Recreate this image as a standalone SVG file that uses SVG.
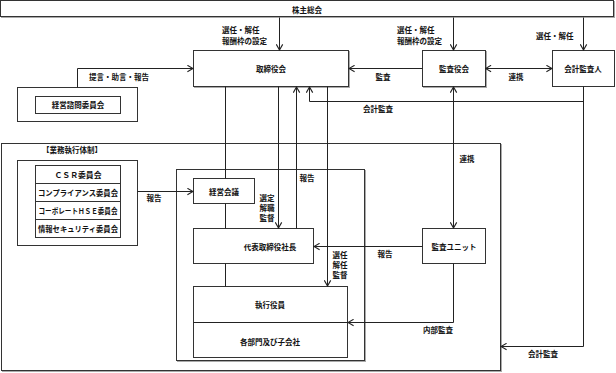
<svg xmlns="http://www.w3.org/2000/svg" width="616" height="373" viewBox="0 0 616 373">
<style>
text{font-family:"Noto Sans CJK JP","Noto Sans CJK SC",sans-serif;font-size:7.5px;font-weight:bold;fill:#111;dominant-baseline:central}
.c{text-anchor:middle}
.box{fill:#fff;stroke:#333;stroke-width:1}
.shadow{fill:none;stroke:#aaa;stroke-width:1}
.ln{fill:none;stroke:#222;stroke-width:1}
</style>
<defs>
<marker id="ah" viewBox="0 0 10 10" refX="9" refY="5" markerWidth="8" markerHeight="8" markerUnits="userSpaceOnUse" orient="auto-start-reverse">
<polyline points="2,1 9,5 2,9" fill="none" stroke="#222" stroke-width="1.4"/>
</marker>
</defs>
<rect width="616" height="373" fill="#fff"/>

<g id="outer-gyomu">
<rect class="shadow" x="2.5" y="144.5" width="499" height="227"/>
<rect class="box" x="1.5" y="143.5" width="499" height="227" fill="none"/>
<text class="c" x="72" y="149">【業務執行体制】</text>
</g>
<g id="inner-exec">
<rect class="shadow" x="177.5" y="170.5" width="188" height="191"/>
<rect class="box" x="176.5" y="169.5" width="188" height="191"/>
</g>

<g id="kabunushi">
<rect class="shadow" x="1.5" y="1.5" width="613" height="16"/>
<rect class="box" x="0.5" y="0.5" width="613" height="16"/>
<text class="c" x="307" y="9">株主総会</text>
</g>
<g id="torishimariyakukai">
<rect class="shadow" x="194.5" y="51.5" width="155" height="36"/>
<rect class="box" x="193.5" y="50.5" width="155" height="36"/>
<text class="c" x="271" y="68.5">取締役会</text>
</g>
<g id="kansayakukai">
<rect class="shadow" x="423.5" y="51.5" width="63" height="36"/>
<rect class="box" x="422.5" y="50.5" width="63" height="36"/>
<text class="c" x="454" y="68.5">監査役会</text>
</g>
<g id="kaikeikansanin">
<rect class="box" x="552.5" y="50.5" width="62" height="36"/>
<text class="c" x="583" y="68.5">会計監査人</text>
</g>
<g id="keiei-shimon">
<rect class="box" x="17.5" y="87.5" width="120" height="34"/>
<rect class="box" x="35.5" y="96.5" width="85" height="17"/>
<text class="c" x="78" y="104.5">経営諮問委員会</text>
</g>
<g id="committees">
<rect class="box" x="17.5" y="160.5" width="120" height="85"/>
<rect class="box" x="35.5" y="165.5" width="85" height="18"/>
<rect class="box" x="35.5" y="183.5" width="85" height="18"/>
<rect class="box" x="35.5" y="201.5" width="85" height="18"/>
<rect class="box" x="35.5" y="219.5" width="85" height="18"/>
<text class="c" x="78" y="174.5" textLength="47" lengthAdjust="spacingAndGlyphs">ＣＳＲ委員会</text>
<text class="c" x="78" y="192.5" textLength="80" lengthAdjust="spacingAndGlyphs">コンプライアンス委員会</text>
<text class="c" x="78" y="210.5" textLength="79" lengthAdjust="spacingAndGlyphs">コーポレートＨＳＥ委員会</text>
<text class="c" x="78" y="228.5" textLength="80" lengthAdjust="spacingAndGlyphs">情報セキュリティ委員会</text>
</g>
<g id="keiei-kaigi">
<rect class="box" x="193.5" y="178.5" width="61" height="25"/>
<text class="c" x="224" y="191">経営会議</text>
</g>
<g id="daihyo">
<rect class="box" x="193.5" y="228.5" width="120" height="35"/>
<text class="c" x="270" y="246">代表取締役社長</text>
</g>
<g id="shikko">
<rect class="box" x="193.5" y="286.5" width="154" height="71"/>
<line class="ln" x1="193.5" y1="322.5" x2="347.5" y2="322.5"/>
<text class="c" x="270" y="304">執行役員</text>
<text class="c" x="270" y="341">各部門及び子会社</text>
</g>
<g id="kansa-unit">
<rect class="box" x="422.5" y="228.5" width="63" height="35"/>
<text class="c" x="454" y="246">監査ユニット</text>
</g>

<g id="connectors">
<path class="ln" d="M279.5 17.5V50" marker-end="url(#ah)"/>
<path class="ln" d="M453.5 17.5V50" marker-end="url(#ah)"/>
<path class="ln" d="M583.5 17.5V50" marker-end="url(#ah)"/>
<path class="ln" d="M77.5 87.5V68.5H193" marker-end="url(#ah)"/>
<path class="ln" d="M422.5 68.5H349" marker-end="url(#ah)"/>
<path class="ln" d="M485.5 68.5H552" marker-start="url(#ah)" marker-end="url(#ah)"/>
<path class="ln" d="M583.5 86.5V346.5H501" marker-end="url(#ah)"/>
<path class="ln" d="M583.5 101.5H309.5V87" marker-end="url(#ah)"/>
<path class="ln" d="M225.5 86.5V178.5"/>
<path class="ln" d="M278.5 86.5V228" marker-end="url(#ah)"/>
<path class="ln" d="M296.5 228.5V87" marker-end="url(#ah)"/>
<path class="ln" d="M327.5 86.5V286" marker-end="url(#ah)"/>
<path class="ln" d="M453.5 87V228" marker-start="url(#ah)" marker-end="url(#ah)"/>
<path class="ln" d="M422.5 246.5H314" marker-end="url(#ah)"/>
<path class="ln" d="M453.5 263.5V322.5H348" marker-end="url(#ah)"/>
<path class="ln" d="M137.5 191.5H193" marker-end="url(#ah)"/>
<path class="ln" d="M225.5 203.5V228.5"/>
<path class="ln" d="M225.5 263.5V286.5"/>
</g>

<g id="labels">
<text x="222" y="29">選任・解任</text>
<text x="222" y="40">報酬枠の設定</text>
<text x="397" y="29">選任・解任</text>
<text x="397" y="40">報酬枠の設定</text>
<text x="536" y="35">選任・解任</text>
<text x="89" y="76">提言・助言・報告</text>
<text class="c" x="383" y="76">監査</text>
<text class="c" x="516" y="76">連携</text>
<text class="c" x="378" y="108">会計監査</text>
<text class="c" x="467" y="158">連携</text>
<text class="c" x="154" y="197">報告</text>
<text class="c" x="267" y="197">選定</text>
<text class="c" x="267" y="207">解職</text>
<text class="c" x="267" y="217">監督</text>
<text class="c" x="307" y="177">報告</text>
<text class="c" x="340" y="254">選任</text>
<text class="c" x="340" y="264">解任</text>
<text class="c" x="340" y="274">監督</text>
<text class="c" x="385" y="253">報告</text>
<text class="c" x="438" y="329">内部監査</text>
<text class="c" x="543" y="353">会計監査</text>
</g>
</svg>
